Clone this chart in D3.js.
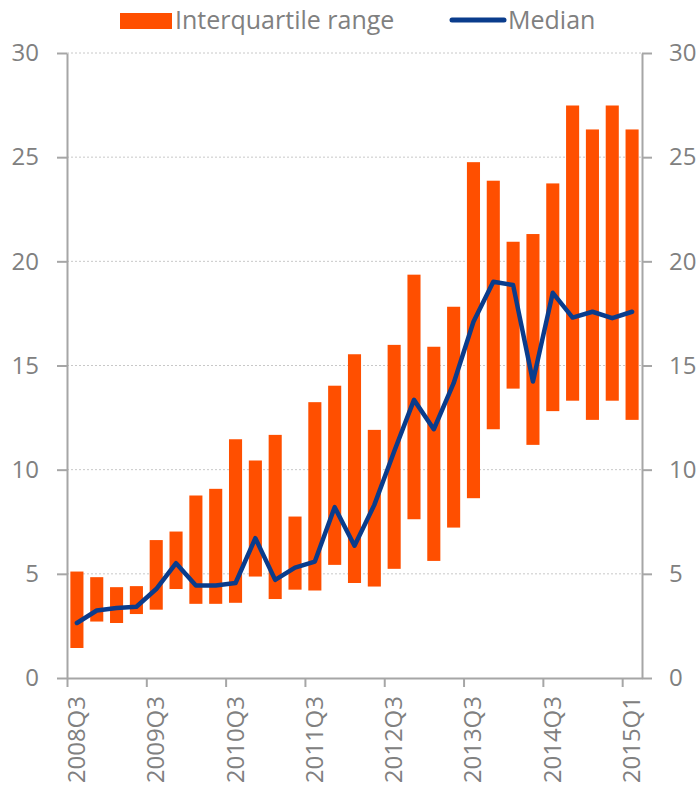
<!DOCTYPE html>
<html>
<head>
<meta charset="utf-8">
<script src="https://cdn.jsdelivr.net/npm/d3@7"></script>
<style>
  body { margin: 0; background: #fff; }
  svg text { font-family: "Open Sans", "Noto Sans", sans-serif; fill: #808080; }
</style>
</head>
<body>
<svg id="chart" width="698" height="790"></svg>
<script>
// 29 periods, labelled every 4th
const tickLabels = ["2008Q3", "2009Q3", "2010Q3", "2011Q3", "2012Q3", "2013Q3", "2014Q3", "2015Q1"];
const lowQ = [1.44, 2.71, 2.64, 3.07, 3.28, 4.27, 3.56, 3.56, 3.61, 4.87, 3.79, 4.24, 4.20, 5.43, 4.56,
              4.39, 5.24, 7.62, 5.62, 7.22, 8.63, 11.94, 13.89, 11.19, 12.81, 13.31, 12.39, 13.31, 12.39];
const highQ = [5.11, 4.84, 4.36, 4.41, 6.62, 7.03, 8.76, 9.08, 11.46, 10.44, 11.67, 7.75, 13.24, 14.03, 15.54,
               11.91, 15.99, 19.36, 15.90, 17.82, 24.76, 23.87, 20.94, 21.31, 23.74, 27.48, 26.33, 27.48, 26.33];
const median = [2.64, 3.24, 3.36, 3.42, 4.27, 5.51, 4.44, 4.44, 4.56, 6.71, 4.71, 5.30, 5.59, 8.20, 6.35,
                8.31, 10.87, 13.35, 11.94, 14.15, 17.10, 19.02, 18.86, 14.23, 18.49, 17.30, 17.58, 17.27, 17.58];
const yTicks = [0, 5, 10, 15, 20, 25, 30];

const svg = d3.select("#chart");
const plotL = 67, plotR = 642, plotT = 53, plotB = 678;
const orange = "#ff4f00", blue = "#0a3c8c", axisCol = "#a6a6a6";

const idx = d3.range(median.length);
const x = d3.scaleBand().domain(idx).range([plotL, plotR]).paddingInner(0.34).paddingOuter(0.17);
const xEdge = d3.scaleLinear().domain([0, idx.length]).range([plotL, plotR]);
const y = d3.scaleLinear().domain([0, 30]).range([plotB, plotT]);

// gridlines
svg.append("g").selectAll("line")
    .data(yTicks.filter(d => d > 0))
    .enter().append("line")
    .attr("x1", plotL).attr("x2", plotR)
    .attr("y1", d => y(d)).attr("y2", d => y(d))
    .attr("stroke", "#c8c8c8").attr("stroke-dasharray", "2,2");

// bars
svg.append("g").selectAll("rect")
    .data(idx)
    .enter().append("rect")
    .attr("x", i => x(i))
    .attr("width", x.bandwidth())
    .attr("y", i => y(highQ[i]))
    .attr("height", i => y(lowQ[i]) - y(highQ[i]))
    .attr("fill", orange);

// median line
svg.append("path")
    .datum(idx)
    .attr("fill", "none")
    .attr("stroke", blue)
    .attr("stroke-width", 4.5)
    .attr("stroke-linejoin", "round")
    .attr("stroke-linecap", "round")
    .attr("d", d3.line().x(i => x(i) + x.bandwidth() / 2).y(i => y(median[i])));

// axes
function styleAxis(g) {
    g.selectAll("path, line").attr("stroke", axisCol).attr("stroke-width", 2);
    g.selectAll("text").attr("font-size", 24).attr("fill", "#808080");
}

svg.append("g")
    .attr("transform", "translate(" + plotL + ",0)")
    .call(d3.axisLeft(y).tickValues(yTicks).tickSize(10).tickSizeOuter(0).tickPadding(18))
    .call(styleAxis);

svg.append("g")
    .attr("transform", "translate(" + plotR + ",0)")
    .call(d3.axisRight(y).tickValues(yTicks).tickSize(10).tickSizeOuter(0).tickPadding(17))
    .call(styleAxis);

const labelIdx = d3.range(0, idx.length, 4);
svg.append("g")
    .attr("transform", "translate(0," + plotB + ")")
    .call(d3.axisBottom(xEdge).tickValues(labelIdx).tickSize(9).tickSizeOuter(0).tickFormat(""))
    .call(styleAxis);

svg.append("g").selectAll("text")
    .data(labelIdx)
    .enter().append("text")
    .attr("transform", (d, j) => "translate(" + (x(d) + x.bandwidth() / 2 + 8) + "," + (plotB + 18) + ") rotate(-90)")
    .attr("text-anchor", "end")
    .attr("font-size", 24)
    .text((d, j) => tickLabels[j]);

// legend
const legend = svg.append("g");
legend.append("rect").attr("x", 120).attr("y", 13).attr("width", 52).attr("height", 16).attr("fill", orange);
legend.append("text").attr("x", 175).attr("y", 29).attr("font-size", 25).text("Interquartile range");
legend.append("line").attr("x1", 452).attr("x2", 504).attr("y1", 20).attr("y2", 20)
    .attr("stroke", blue).attr("stroke-width", 5).attr("stroke-linecap", "round");
legend.append("text").attr("x", 508).attr("y", 29).attr("font-size", 25).text("Median");
</script>
</body>
</html>
